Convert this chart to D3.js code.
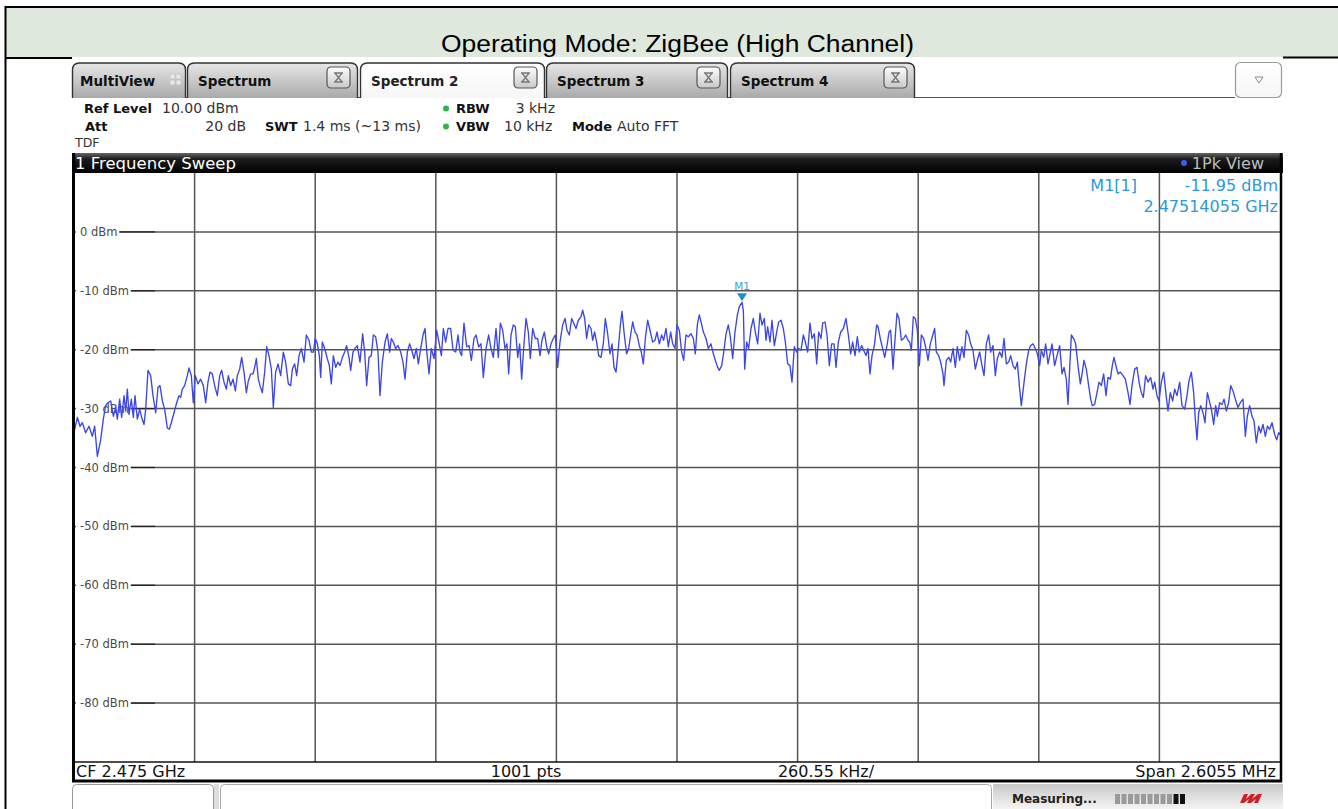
<!DOCTYPE html>
<html>
<head>
<meta charset="utf-8">
<script src="https://cdnjs.cloudflare.com/ajax/libs/d3/7.8.5/d3.min.js"></script>
<style>
  body { margin: 0; background: #fff; }
  svg { display: block; }
</style>
</head>
<body>
<div id="chart"></div>
<script>
// ---- data ----
const pageTitle = "Operating Mode: ZigBee (High Channel)"
const tabNames = ["MultiView", "Spectrum", "Spectrum 2", "Spectrum 3", "Spectrum 4"]
const activeTab = "Spectrum 2"
const spanKHz = 2605.5
const refLevelDbm = 10
const bottomLevelDbm = -90
const levelTicks = [0, -10, -20, -30, -40, -50, -60, -70, -80]
const freqDivisions = 10
const footerTexts = ["CF 2.475 GHz", "1001 pts", "260.55 kHz/", "Span 2.6055 MHz"]
const markerName = "M1"
const markerFreqKHz = 140.55   // 2.47514055 GHz - CF
const markerLevelDbm = -11.95
const markerReadout = ["M1[1]", "-11.95 dBm", "2.47514055 GHz"]

// trace: [offset from CF in kHz, level in dBm]
const tracePoints = [
  [-1302.8,-34.1],[-1295.5,-31.5],[-1289.8,-33.0],[-1284.7,-32.4],[-1277.5,-34.1],[-1270.3,-33.0],
  [-1263.1,-34.7],[-1258.1,-33.0],[-1252.3,-38.1],[-1245.1,-35.3],[-1239.4,-31.8],[-1234.3,-29.5],
  [-1229.3,-29.0],[-1223.5,-28.7],[-1217.7,-31.3],[-1212.7,-29.8],[-1209.1,-31.8],[-1204.1,-28.4],
  [-1199.8,-31.5],[-1194.7,-27.8],[-1191.1,-30.4],[-1187.5,-26.7],[-1183.9,-31.0],[-1178.9,-28.4],
  [-1174.6,-31.5],[-1171.0,-27.8],[-1165.9,-31.8],[-1160.9,-30.1],[-1156.6,-31.5],[-1151.5,-32.7],
  [-1147.9,-30.1],[-1142.9,-23.5],[-1137.1,-24.4],[-1132.1,-27.8],[-1126.3,-30.7],[-1121.3,-26.4],
  [-1116.9,-26.1],[-1111.9,-28.7],[-1106.9,-30.1],[-1101.1,-33.3],[-1096.8,-33.5],[-1092.5,-32.4],
  [-1086.7,-30.7],[-1080.9,-29.0],[-1075.9,-27.8],[-1072.3,-28.1],[-1068.7,-26.7],[-1063.7,-26.1],
  [-1057.9,-24.4],[-1054.3,-23.1],[-1049.3,-24.4],[-1045.0,-29.0],[-1040.6,-24.4],[-1034.9,-25.8],
  [-1029.1,-25.0],[-1023.3,-26.1],[-1018.3,-29.0],[-1013.3,-25.5],[-1008.9,-23.8],[-1003.9,-24.1],
  [-998.8,-26.1],[-993.1,-27.8],[-988.0,-24.4],[-983.7,-23.5],[-978.7,-25.5],[-973.6,-26.7],
  [-969.3,-24.4],[-964.3,-26.1],[-959.2,-25.0],[-954.2,-27.0],[-949.9,-24.4],[-944.8,-23.3],
  [-940.5,-21.3],[-935.5,-23.8],[-930.4,-27.3],[-926.1,-25.3],[-921.1,-24.1],[-916.0,-24.1],
  [-912.4,-23.0],[-908.8,-21.5],[-904.5,-25.0],[-900.9,-26.1],[-895.9,-27.3],[-890.8,-23.8],
  [-886.5,-19.5],[-881.5,-21.0],[-876.4,-23.3],[-872.1,-29.8],[-867.1,-23.8],[-862.0,-22.4],
  [-856.3,-24.4],[-850.5,-20.4],[-845.5,-22.1],[-839.7,-25.8],[-834.7,-26.1],[-831.0,-23.3],
  [-826.0,-22.4],[-821.7,-24.4],[-816.6,-21.0],[-811.6,-19.8],[-805.8,-22.1],[-800.8,-17.5],
  [-795.0,-18.4],[-790.0,-20.4],[-785.7,-20.4],[-781.4,-18.1],[-777.0,-19.0],[-772.7,-21.0],
  [-769.8,-24.7],[-766.2,-18.7],[-761.2,-19.8],[-755.5,-21.5],[-751.1,-22.7],[-746.8,-25.8],
  [-742.5,-21.0],[-737.4,-23.0],[-732.4,-22.1],[-728.0,-22.7],[-723.0,-21.3],[-718.0,-20.4],
  [-713.7,-19.3],[-708.6,-21.3],[-705.0,-23.5],[-700.0,-20.4],[-695.7,-19.8],[-690.6,-19.3],
  [-684.9,-22.1],[-679.1,-17.3],[-674.8,-20.4],[-670.5,-26.1],[-665.4,-21.3],[-660.4,-21.0],
  [-656.0,-17.5],[-651.0,-17.8],[-646.0,-20.4],[-641.7,-27.8],[-636.6,-22.1],[-630.8,-18.7],
  [-625.8,-17.3],[-620.8,-20.4],[-617.2,-18.1],[-612.8,-18.7],[-607.8,-19.8],[-602.8,-19.3],
  [-597.0,-20.4],[-592.0,-22.1],[-587.6,-25.0],[-582.6,-20.4],[-577.6,-19.0],[-573.2,-20.1],
  [-568.2,-21.5],[-563.2,-19.8],[-558.8,-22.4],[-553.8,-19.8],[-548.7,-17.5],[-544.4,-16.4],
  [-540.8,-20.1],[-535.8,-24.1],[-530.8,-19.8],[-525.0,-21.5],[-519.2,-16.7],[-514.2,-18.7],
  [-509.1,-21.0],[-504.8,-16.4],[-499.8,-18.7],[-494.7,-16.4],[-489.0,-16.4],[-483.9,-20.1],
  [-478.2,-20.4],[-473.1,-17.5],[-468.8,-20.4],[-465.2,-21.0],[-460.2,-15.5],[-454.4,-19.5],
  [-449.4,-19.3],[-444.3,-21.8],[-438.6,-18.1],
  [-434.3,-17.5],[-428.5,-19.5],[-423.5,-19.0],[-418.4,-24.7],[-412.6,-19.8],[-406.9,-17.5],
  [-401.9,-19.8],[-396.8,-21.3],[-391.0,-16.4],[-386.0,-21.3],[-381.7,-15.5],[-376.6,-16.7],
  [-371.6,-19.8],[-367.3,-19.0],[-363.7,-24.1],[-358.6,-17.5],[-353.6,-15.8],[-349.2,-16.1],
  [-344.2,-21.3],[-339.9,-19.0],[-335.6,-25.0],[-331.3,-19.8],[-326.2,-14.7],[-321.2,-17.0],
  [-316.9,-21.5],[-311.8,-16.4],[-306.1,-18.1],[-301.0,-18.1],[-296.0,-21.0],[-291.7,-18.4],
  [-286.6,-17.0],[-281.6,-19.5],[-277.3,-20.7],[-272.2,-19.0],[-267.2,-18.1],[-262.9,-17.5],
  [-257.8,-23.0],[-252.8,-18.7],[-247.0,-15.8],[-242.0,-14.7],[-237.6,-16.7],[-232.6,-17.5],
  [-227.6,-14.7],[-223.2,-15.5],[-218.2,-16.4],[-213.2,-15.0],[-207.4,-14.4],[-203.8,-13.3],
  [-199.5,-14.7],[-195.2,-18.1],[-190.8,-15.8],[-185.8,-16.4],[-182.2,-18.4],[-177.9,-17.0],
  [-173.6,-18.7],[-169.2,-21.0],[-164.2,-21.3],[-159.2,-19.0],[-154.8,-14.7],[-149.8,-17.3],
  [-144.8,-20.7],[-140.4,-19.0],[-136.1,-23.0],[-131.8,-23.8],[-126.8,-19.8],[-122.4,-15.8],
  [-118.8,-13.5],[-113.8,-17.5],[-108.8,-20.7],[-104.4,-19.8],[-100.1,-17.5],[-95.8,-15.3],
  [-90.7,-17.0],[-86.4,-17.5],[-81.4,-19.3],[-77.1,-20.4],[-72.7,-22.4],[-68.4,-18.1],
  [-63.4,-15.0],[-58.3,-16.7],[-52.6,-18.7],[-47.5,-18.4],[-43.2,-17.0],[-38.2,-19.0],
  [-33.1,-17.5],[-28.8,-18.4],[-23.8,-16.4],[-18.7,-19.5],[-13.7,-17.0],[-9.4,-19.0],
  [-4.3,-19.8],[0.0,-15.8],[5.0,-16.7],[10.1,-20.4],[14.4,-21.8],[19.4,-17.5],
  [24.5,-17.8],[30.2,-17.3],[35.3,-18.1],[39.6,-20.7],[43.9,-15.8],[48.2,-14.1],
  [52.6,-15.5],[56.9,-17.0],[62.7,-18.1],[67.7,-19.8],[73.4,-19.0],[78.5,-20.7],
  [82.8,-21.8],[87.9,-23.0],[91.5,-23.5],[96.5,-22.7],[101.5,-20.1],[105.9,-17.3],
  [110.9,-15.8],[115.2,-17.8],[120.3,-21.5],[125.3,-17.0],[130.4,-14.1],[134.7,-12.7],
  [140.6,-11.95],[143.4,-13.5],[146.2,-23.3],[150.5,-18.7],[154.8,-19.8],[159.9,-16.4],
  [164.9,-14.7],[169.2,-17.0],[174.3,-19.0],[179.3,-13.8],[183.6,-15.8],[188.7,-14.7],
  [192.3,-18.4],[195.9,-16.1],[200.9,-18.7],[205.2,-15.0],[210.3,-19.3],[215.3,-17.0],
  [219.6,-15.3],[224.7,-15.0],[229.7,-16.4],[234.1,-18.7],[239.1,-22.4],[244.1,-22.7],
  [248.4,-25.5],[253.5,-19.5],[258.5,-20.4],[262.9,-19.8],[267.9,-20.1],[272.9,-17.5],
  [277.3,-18.7],[282.3,-20.4],[287.3,-15.5],[291.7,-18.1],[296.7,-17.3],[301.8,-22.4],
  [306.1,-17.0],[311.1,-18.1],[314.7,-15.5],[319.8,-15.3],[324.1,-17.5],[329.1,-22.7],
  [334.1,-19.0],[339.2,-19.0],[343.5,-23.0],[348.5,-18.7],[353.6,-17.0],[359.4,-16.4],
  [365.1,-14.7],[370.2,-17.5],[375.2,-20.7],[379.5,-18.7],[384.6,-21.0],[389.6,-17.8],
  [393.9,-20.4],[399.0,-19.3],[403.3,-20.1],[408.3,-21.0],[412.6,-19.8],[417.0,-24.1],
  [421.3,-21.0],[426.3,-19.3],[431.4,-15.8],
  [434.3,-16.1],[440.0,-18.4],[445.1,-20.1],[448.7,-21.3],[453.7,-19.3],[458.0,-17.0],
  [461.6,-16.7],[466.7,-23.3],[470.3,-19.0],[475.3,-13.8],[479.6,-14.7],[484.7,-18.4],
  [489.7,-18.1],[494.0,-17.5],[499.1,-18.4],[502.7,-18.7],[506.3,-20.1],[510.6,-14.4],
  [514.9,-14.7],[519.2,-16.7],[523.6,-22.7],[527.9,-17.5],[532.9,-18.1],[538.7,-20.1],
  [542.3,-21.8],[547.3,-19.0],[551.6,-17.8],[556.7,-16.4],[560.3,-20.4],[565.3,-21.0],
  [569.6,-22.1],[574.7,-24.1],[576.8,-26.1],[581.9,-21.8],[587.0,-21.3],[591.2,-22.1],
  [596.3,-19.8],[601.3,-23.0],[605.6,-19.5],[610.7,-21.8],[615.7,-19.5],[620.0,-21.3],
  [625.1,-16.7],[630.1,-17.5],[634.4,-19.0],[639.5,-20.1],[644.5,-23.3],[648.9,-21.8],
  [653.9,-20.4],[658.9,-22.7],[663.3,-24.4],[668.3,-19.0],[673.3,-17.5],[677.7,-20.4],
  [682.7,-19.3],[687.7,-24.4],[692.1,-21.5],[697.1,-20.4],[702.1,-21.3],[706.5,-18.1],
  [711.5,-22.4],[716.6,-22.1],[720.9,-21.0],[725.9,-22.7],[730.9,-23.3],[735.3,-22.1],
  [739.6,-26.1],[743.9,-29.5],[748.9,-26.1],[754.7,-22.4],[759.8,-20.1],[764.1,-19.3],
  [769.1,-19.0],[774.2,-19.8],[778.5,-20.7],[783.5,-22.7],[787.1,-20.1],[792.2,-21.3],
  [796.5,-19.0],[801.5,-22.4],[806.6,-20.4],[810.2,-19.0],[815.9,-22.7],[821.0,-21.0],
  [826.7,-19.3],[831.8,-24.1],[836.1,-23.0],[841.1,-25.0],[844.7,-29.3],[848.3,-23.3],
  [852.0,-17.5],[857.0,-18.1],[861.3,-19.0],[866.3,-22.7],[871.4,-25.8],[875.7,-23.8],
  [879.3,-21.8],[884.3,-23.3],[889.4,-26.1],[893.7,-28.4],[897.3,-29.5],[902.3,-29.3],
  [907.4,-27.3],[911.7,-25.5],[916.8,-26.1],[921.8,-24.1],[926.8,-27.8],[931.2,-24.7],
  [936.2,-25.0],[940.5,-22.7],[944.1,-21.3],[949.2,-23.0],[952.8,-24.1],[957.8,-23.8],
  [963.6,-24.4],[968.6,-25.0],[974.4,-27.3],[978.7,-29.3],[983.0,-26.1],[988.8,-23.3],
  [993.8,-23.0],[998.9,-25.8],[1003.2,-27.3],[1007.5,-28.1],[1012.5,-24.4],[1017.6,-25.5],
  [1023.3,-24.7],[1028.4,-26.7],[1032.0,-25.5],[1037.0,-27.8],[1041.3,-28.7],[1046.4,-25.5],
  [1051.4,-23.8],[1057.2,-28.1],[1060.8,-30.4],[1065.8,-27.3],[1070.9,-28.7],[1075.2,-26.7],
  [1080.2,-27.8],[1086.0,-25.5],[1091.0,-29.5],[1096.8,-30.1],[1101.8,-27.8],[1106.2,-25.3],
  [1111.2,-23.8],[1116.2,-27.3],[1119.8,-31.8],[1123.4,-35.3],[1127.0,-30.7],[1131.4,-29.5],
  [1136.4,-30.7],[1140.7,-32.4],[1145.8,-27.3],[1150.1,-28.7],[1154.4,-30.1],[1159.4,-32.7],
  [1163.8,-29.5],[1167.4,-31.3],[1172.4,-29.0],[1177.4,-29.3],[1181.8,-28.4],[1186.8,-30.4],
  [1191.8,-29.0],[1196.2,-26.1],[1201.2,-27.0],[1206.3,-28.4],[1212.0,-29.8],[1217.0,-29.0],
  [1222.8,-28.4],[1227.9,-34.7],[1232.2,-31.3],[1237.2,-29.5],[1242.3,-31.3],[1246.6,-32.1],
  [1251.6,-35.8],[1256.7,-33.0],[1261.0,-34.1],[1266.0,-32.7],[1271.1,-34.7],[1275.4,-33.0],
  [1280.4,-33.5],[1285.5,-32.4],[1291.2,-34.4],[1295.6,-35.3],[1299.9,-34.1],[1302.8,-34.4]
]

// ---- layout ----
const W = 1338, H = 809
const plot = { left: 74, right: 1280, top: 173, bottom: 762 }
const shot = { left: 72, right: 1283 }
const rsFont = "'DejaVu Sans', sans-serif"

const svg = d3.select("#chart").append("svg")
  .attr("width", W).attr("height", H)
  .style("background", "#fff")

const defs = svg.append("defs")
function vGrad(id, stops) {
  const g = defs.append("linearGradient").attr("id", id)
    .attr("x1", 0).attr("y1", 0).attr("x2", 0).attr("y2", 1)
  stops.forEach(s => g.append("stop").attr("offset", s[0]).attr("stop-color", s[1]))
}
vGrad("tabGrad", [[0, "#e6e6e6"], [0.5, "#c9c9c9"], [1, "#a9a9a9"]])
vGrad("activeGrad", [[0, "#ffffff"], [1, "#f6f6f6"]])
vGrad("btnGrad", [[0, "#fdfdfd"], [1, "#c9c9c9"]])
vGrad("barGrad", [[0, "#666"], [0.3, "#1c1c1c"], [1, "#000"]])
vGrad("statusGrad", [[0, "#c8c8c8"], [1, "#f4f4f4"]])

// ---- page header band ----
svg.append("rect").attr("x", 6).attr("y", 8).attr("width", W - 6).attr("height", 49)
  .attr("fill", "#dfe8dc")
svg.append("line").attr("x1", 5).attr("x2", W).attr("y1", 7).attr("y2", 7)
  .attr("stroke", "#000").attr("stroke-width", 2)
svg.append("line").attr("x1", 5.5).attr("x2", 5.5).attr("y1", 6).attr("y2", H)
  .attr("stroke", "#000").attr("stroke-width", 2)
svg.append("line").attr("x1", 5).attr("x2", shot.left).attr("y1", 58).attr("y2", 58)
  .attr("stroke", "#000").attr("stroke-width", 2)
svg.append("line").attr("x1", shot.right).attr("x2", W).attr("y1", 57.5).attr("y2", 57.5)
  .attr("stroke", "#000").attr("stroke-width", 2)
svg.append("text").attr("x", 677.5).attr("y", 52)
  .attr("text-anchor", "middle")
  .attr("textLength", 473).attr("lengthAdjust", "spacingAndGlyphs")
  .style("font-family", "'Liberation Sans', Arial, sans-serif")
  .style("font-size", "23px").attr("fill", "#000")
  .text(pageTitle)

// ---- tab strip ----
const tabX = [[72, 186], [187, 358], [360, 545], [546, 728], [730, 915]]
const tabTop = 63, tabBot = 98
svg.append("line").attr("x1", shot.left).attr("x2", 1235).attr("y1", 97.5).attr("y2", 97.5)
  .attr("stroke", "#555").attr("stroke-width", 1.2)

function tabPath(x0, x1) {
  const r = 7
  return `M${x0},${tabBot} L${x0},${tabTop + r} Q${x0},${tabTop} ${x0 + r},${tabTop}` +
    ` L${x1 - r},${tabTop} Q${x1},${tabTop} ${x1},${tabTop + r} L${x1},${tabBot}`
}
const tabs = svg.append("g").selectAll("g").data(tabNames).join("g")
tabs.append("path")
  .attr("d", (d, i) => tabPath(tabX[i][0] + 0.5, tabX[i][1] - 0.5))
  .attr("fill", d => d === activeTab ? "url(#activeGrad)" : "url(#tabGrad)")
  .attr("stroke", "#333").attr("stroke-width", 1.4)
tabs.append("text")
  .attr("x", (d, i) => tabX[i][0] + (i === 0 ? 8 : 11))
  .attr("y", 86)
  .style("font-family", rsFont).style("font-size", "13.5px")
  .style("font-weight", 700)
  .attr("fill", d => d === activeTab ? "#222" : "#111")
  .text(d => d)

// close buttons on the spectrum tabs
const closeBtns = svg.append("g").selectAll("g").data(tabNames.slice(1)).join("g")
  .attr("transform", (d, i) => `translate(${tabX[i + 1][1] - 31},67)`)
closeBtns.append("rect").attr("width", 23).attr("height", 21).attr("rx", 4)
  .attr("fill", "url(#btnGrad)").attr("stroke", "#555").attr("stroke-width", 1.2)
closeBtns.append("path")
  .attr("d", "M7,6 L16,6 M7,15 L16,15 M8,6 L15,15 M15,6 L8,15")
  .attr("stroke", "#777").attr("stroke-width", 1.3).attr("fill", "none")

// MultiView grid icon
const gridIcon = svg.append("g").attr("transform", "translate(170,74)")
;[[0, 0], [6, 0], [0, 6], [6, 6]].forEach(p => gridIcon.append("rect")
  .attr("x", p[0]).attr("y", p[1]).attr("width", 5).attr("height", 5).attr("rx", 1)
  .attr("fill", "#e8e8e8").attr("stroke", "#bbb").attr("stroke-width", 0.6))

// dropdown button
svg.append("rect").attr("x", 1235.5).attr("y", 62.5).attr("width", 46).attr("height", 35).attr("rx", 5)
  .attr("fill", "url(#activeGrad)").attr("stroke", "#9a9a9a").attr("stroke-width", 1.2)
svg.append("path").attr("d", "M1255,77 L1263,77 L1259,83 Z")
  .attr("fill", "none").attr("stroke", "#8a8a9a").attr("stroke-width", 1)

// ---- settings block ----
const info = svg.append("g").style("font-family", rsFont).attr("fill", "#111")
function infoText(x, y, t, bold, anchor) {
  info.append("text").attr("x", x).attr("y", y).text(t)
    .attr("text-anchor", anchor || "start")
    .style("font-weight", bold ? 700 : 400)
    .style("font-size", bold ? "13px" : "14px")
    .attr("fill", bold ? "#111" : "#333")
}
infoText(84, 113, "Ref Level", true)
infoText(162, 113, "10.00 dBm")
infoText(85, 131, "Att", true)
infoText(246, 131, "20 dB", false, "end")
infoText(265, 131, "SWT", true)
infoText(303, 131, "1.4 ms (~13 ms)")
infoText(456, 113, "RBW", true)
infoText(555, 113, "3 kHz", false, "end")
infoText(456, 131, "VBW", true)
infoText(504, 131, "10 kHz")
infoText(572, 131, "Mode", true)
infoText(617, 131, "Auto FFT")
info.append("text").attr("x", 75).attr("y", 147).text("TDF").style("font-size", "12.5px").attr("fill", "#333")
;[108.5, 126.5].forEach(cy => svg.append("circle").attr("cx", 446).attr("cy", cy).attr("r", 3)
  .attr("fill", "#33b14a"))

// ---- window title bar ----
svg.append("rect").attr("x", shot.left).attr("y", 153).attr("width", shot.right - shot.left).attr("height", 20)
  .attr("fill", "url(#barGrad)")
svg.append("text").attr("x", 75).attr("y", 169).text("1 Frequency Sweep")
  .style("font-family", rsFont).style("font-size", "16.5px").attr("fill", "#fff")
svg.append("circle").attr("cx", 1184).attr("cy", 163).attr("r", 3).attr("fill", "#3a5cff")
svg.append("text").attr("x", 1264).attr("y", 169).attr("text-anchor", "end").text("1Pk View")
  .style("font-family", rsFont).style("font-size", "16px").attr("fill", "#bdbdbd")

// ---- diagram ----
const x = d3.scaleLinear().domain([-spanKHz / 2, spanKHz / 2]).range([plot.left, plot.right])
const y = d3.scaleLinear().domain([bottomLevelDbm, refLevelDbm]).range([plot.bottom, plot.top])

svg.append("rect").attr("x", plot.left).attr("y", plot.top)
  .attr("width", plot.right - plot.left).attr("height", plot.bottom - plot.top).attr("fill", "#fff")

const grid = svg.append("g").attr("stroke", "#555").attr("stroke-width", 1.5)
const freqLines = d3.range(1, freqDivisions).map(i => -spanKHz / 2 + i * spanKHz / freqDivisions)
grid.selectAll("line.v").data(freqLines).join("line").attr("class", "v")
  .attr("x1", d => x(d)).attr("x2", d => x(d)).attr("y1", plot.top).attr("y2", plot.bottom)
grid.selectAll("line.h").data(levelTicks).join("line").attr("class", "h")
  .attr("x1", plot.left).attr("x2", plot.right).attr("y1", d => y(d)).attr("y2", d => y(d))

// level labels sit on the grid with a white backing
const lvl = svg.append("g")
lvl.selectAll("g").data(levelTicks).join("g").each(function (d) {
  const g = d3.select(this)
  const bg = g.append("rect").attr("fill", "#fff")
  const t = g.append("text").attr("x", 80).attr("y", y(d) + 4).text(d + " dBm")
    .style("font-family", rsFont).style("font-size", "11.5px").attr("fill", "#4a4a4a")
  const w = t.node().getComputedTextLength()
  bg.attr("x", 76).attr("y", y(d) - 6).attr("width", w + 6).attr("height", 12)
  g.append("line").attr("x1", 80 + w + 2).attr("x2", 155).attr("y1", y(d)).attr("y2", y(d))
    .attr("stroke", "#222").attr("stroke-width", 1.3)
})

// marker readout
const mk = svg.append("g").style("font-family", rsFont).style("font-size", "16px").attr("fill", "#2b9ad6")
mk.append("text").attr("x", 1137).attr("y", 191).attr("text-anchor", "end").text(markerReadout[0])
mk.append("text").attr("x", 1278).attr("y", 191).attr("text-anchor", "end").text(markerReadout[1])
mk.append("text").attr("x", 1278).attr("y", 212).attr("text-anchor", "end").text(markerReadout[2])

// trace
const line = d3.line().x(d => x(d[0])).y(d => y(d[1]))
svg.append("path").datum(tracePoints).attr("d", line)
  .attr("fill", "none").attr("stroke", "#3d46e2").attr("stroke-width", 1.35)
  .attr("stroke-linejoin", "round")

// marker M1
const mx = x(markerFreqKHz), my = y(markerLevelDbm)
svg.append("path").attr("d", `M${mx - 5},${my - 9} L${mx + 5},${my - 9} L${mx},${my - 1} Z`)
  .attr("fill", "#1f8fd2")
svg.append("text").attr("x", mx).attr("y", my - 12).attr("text-anchor", "middle").text(markerName)
  .style("font-family", rsFont).style("font-size", "10.5px").attr("fill", "#3aa0d8")

// frame of the diagram
svg.append("line").attr("x1", 73.5).attr("x2", 73.5).attr("y1", 153).attr("y2", 782)
  .attr("stroke", "#000").attr("stroke-width", 3)
svg.append("line").attr("x1", 1281).attr("x2", 1281).attr("y1", 153).attr("y2", 782)
  .attr("stroke", "#000").attr("stroke-width", 2.5)
svg.append("line").attr("x1", plot.left).attr("x2", plot.right).attr("y1", plot.bottom).attr("y2", plot.bottom)
  .attr("stroke", "#111").attr("stroke-width", 1.5)
svg.append("line").attr("x1", shot.left).attr("x2", 1282).attr("y1", 781).attr("y2", 781)
  .attr("stroke", "#000").attr("stroke-width", 3)

// footer line of the diagram
const foot = svg.append("g").style("font-family", rsFont).style("font-size", "16px").attr("fill", "#111")
foot.append("text").attr("x", 76).attr("y", 777).text(footerTexts[0])
foot.append("text").attr("x", 526).attr("y", 777).attr("text-anchor", "middle").text(footerTexts[1])
foot.append("text").attr("x", 826).attr("y", 777).attr("text-anchor", "middle").text(footerTexts[2])
foot.append("text").attr("x", 1276).attr("y", 777).attr("text-anchor", "end").text(footerTexts[3])

// ---- status bar ----
svg.append("rect").attr("x", 72.5).attr("y", 784.5).attr("width", 141).attr("height", 30).attr("rx", 4)
  .attr("fill", "#fff").attr("stroke", "#999")
svg.append("rect").attr("x", 214).attr("y", 784).attr("width", 5).attr("height", 25).attr("fill", "#ddd")
svg.append("rect").attr("x", 220.5).attr("y", 784.5).attr("width", 771).attr("height", 30).attr("rx", 4)
  .attr("fill", "#fff").attr("stroke", "#aaa")
svg.append("rect").attr("x", 993).attr("y", 784).attr("width", 290).attr("height", 25).attr("fill", "url(#statusGrad)")
svg.append("text").attr("x", 1012).attr("y", 803).text("Measuring...")
  .style("font-family", rsFont).style("font-size", "12px").style("font-weight", 700).attr("fill", "#222")
const progress = svg.append("g")
d3.range(11).forEach(i => progress.append("rect")
  .attr("x", 1115 + i * 6.5).attr("y", 794).attr("width", 5).attr("height", 10)
  .attr("fill", i >= 9 ? "#111" : "#9a9a9a"))
svg.append("path").attr("d", "M1240,803 L1244,794 L1248,794 L1246,799 L1251,794 L1255,794 L1252,799 L1258,794 L1262,794 L1258,803 L1254,803 L1256,799 L1251,803 L1247,803 L1249,799 L1244,803 Z")
  .attr("fill", "#d0202a")
</script>
</body>
</html>
